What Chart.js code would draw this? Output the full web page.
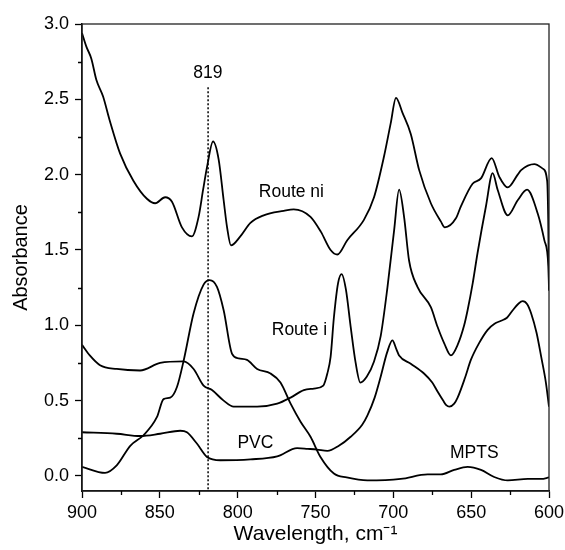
<!DOCTYPE html>
<html>
<head>
<meta charset="utf-8">
<title>Absorbance spectra</title>
<script src="https://cdn.jsdelivr.net/npm/chart.js@4.4.1/dist/chart.umd.min.js"></script>
<style>
    html, body { margin: 0; padding: 0; background: #fff; }
    #wrap { width: 565px; height: 550px; }
</style>
</head>
<body>
<div id="wrap"><canvas id="chart" width="565" height="550"></canvas></div>
<script>
// Route ni
const routeNiX = [900, 897.2, 894, 890.8, 886.5, 882.2, 875.5, 867, 858.3, 853, 846.6, 842.2, 835.8, 829.4, 825.1, 822.2, 819.7, 815.8, 812.2, 809, 806.8, 804.3, 798.3, 791.8, 783.3, 770.4, 764, 753.2, 746.5, 740.3, 736, 729.6, 718.9, 712.4, 706, 701.7, 698.3, 694.1, 688.8, 683.4, 675.9, 669.5, 666.9, 659.8, 656.6, 649.1, 643.7, 636.8, 631.9, 626.5, 620.1, 617.9, 609.4, 604, 601.2, 600.5, 600];
const routeNiY = [2.94, 2.85, 2.77, 2.63, 2.52, 2.36, 2.14, 1.96, 1.84, 1.81, 1.85, 1.82, 1.65, 1.59, 1.72, 1.90, 2.05, 2.22, 2.10, 1.83, 1.65, 1.53, 1.59, 1.68, 1.73, 1.76, 1.77, 1.72, 1.62, 1.50, 1.47, 1.565, 1.70, 1.85, 2.12, 2.34, 2.51, 2.41, 2.27, 2.03, 1.81, 1.69, 1.65, 1.71, 1.79, 1.94, 1.975, 2.11, 1.985, 1.915, 2.0, 2.03, 2.07, 2.04, 1.96, 1.70, 1.23];

// Route i
const routeIX = [900, 895, 888.4, 877.7, 862.7, 849.8, 834.8, 828.3, 821.9, 816.5, 809, 802.6, 787.5, 774.6, 766, 757.5, 751, 745, 742.4, 740.3, 738.2, 735.5, 733.2, 730.5, 727.4, 724.2, 721.2, 717, 712.4, 708.1, 703.8, 699.5, 696.3, 693.1, 689.9, 684.5, 675.9, 671.6, 667.3, 663, 658.7, 654.5, 652.3, 649, 645.9, 640.5, 636.2, 633, 626.5, 620.1, 614.1, 607.2, 603, 600.4, 600];
const routeIY = [0.87, 0.80, 0.735, 0.71, 0.70, 0.75, 0.76, 0.71, 0.60, 0.57, 0.50, 0.46, 0.46, 0.48, 0.52, 0.57, 0.58, 0.60, 0.68, 0.79, 1.05, 1.28, 1.34, 1.24, 0.99, 0.75, 0.62, 0.66, 0.76, 0.93, 1.25, 1.63, 1.90, 1.72, 1.43, 1.255, 1.12, 0.99, 0.88, 0.80, 0.87, 1.00, 1.10, 1.28, 1.48, 1.79, 2.01, 1.90, 1.73, 1.83, 1.90, 1.74, 1.565, 1.39, 1.24];

// PVC
const pvcX = [900, 877.7, 862.7, 849.8, 836.9, 832.6, 826.2, 819.7, 811.1, 791.8, 774.6, 761.8, 755, 749, 742.4, 735, 727.4, 720, 716.7, 712, 708.1, 704, 700.6, 698, 696.3, 688.8, 680.3, 675, 671.6, 668, 666, 664, 660.9, 658.7, 654, 650.2, 645, 639.4, 635, 630.8, 627, 623.3, 619.5, 616.9, 614, 611.5, 608, 605, 602, 600];
const pvcY = [0.29, 0.28, 0.265, 0.28, 0.30, 0.29, 0.215, 0.126, 0.104, 0.11, 0.13, 0.185, 0.18, 0.175, 0.166, 0.20, 0.26, 0.34, 0.40, 0.52, 0.66, 0.82, 0.90, 0.84, 0.80, 0.745, 0.68, 0.62, 0.56, 0.50, 0.47, 0.46, 0.48, 0.52, 0.65, 0.77, 0.88, 0.97, 1.01, 1.03, 1.05, 1.10, 1.145, 1.16, 1.14, 1.08, 0.95, 0.79, 0.62, 0.46];

// MPTS
const mptsX = [900, 885.2, 877.7, 869, 860.5, 851.9, 847.6, 843.3, 839, 834.6, 828.3, 821.9, 818, 813.3, 809, 803.6, 799.4, 794, 787.5, 778.9, 772.5, 766, 759.6, 753.2, 746.8, 738.2, 730, 716.7, 695.2, 678, 669.5, 660.9, 652.3, 643.7, 635.2, 626.5, 613.6, 605, 600];
const mptsY = [0.06, 0.02, 0.07, 0.20, 0.27, 0.39, 0.51, 0.52, 0.59, 0.77, 1.08, 1.27, 1.30, 1.255, 1.10, 0.81, 0.78, 0.77, 0.71, 0.68, 0.62, 0.48, 0.36, 0.26, 0.126, 0.016, -0.01, -0.03, -0.02, 0.01, 0.01, 0.04, 0.06, 0.04, -0.007, -0.03, -0.02, -0.02, -0.01];

// dotted marker at 819 cm-1
const markerX = [819, 819];
const markerY = [2.58, -0.1];

const xTicks = [900, 850, 800, 750, 700, 650, 600];
const yTicks = [0.0, 0.5, 1.0, 1.5, 2.0, 2.5, 3.0];
const xMinor = [875, 825, 775, 725, 675, 625];
const yMinor = [0.25, 0.75, 1.25, 1.75, 2.25, 2.75];

const labels = [
    { text: '819', x: 819.2, y: 2.673 },
    { text: 'Route ni', x: 765.5, y: 1.886 },
    { text: 'Route i', x: 760.3, y: 0.97 },
    { text: 'PVC', x: 788.6, y: 0.215 },
    { text: 'MPTS', x: 648, y: 0.149 }
];

const FONT = "'Liberation Sans', Arial, sans-serif";

function points(xs, ys) {
    return xs.map((x, i) => ({ x: x, y: ys[i] }));
}

function curve(label, xs, ys) {
    return {
        label: label,
        data: points(xs, ys),
        borderColor: '#000',
        borderWidth: 1.8,
        pointRadius: 0,
        cubicInterpolationMode: 'monotone',
        fill: false
    };
}

// frame, minor ticks and in-plot labels
const decorations = {
    id: 'decorations',
    afterDatasetsDraw(chart) {
        const { ctx, chartArea: a, scales: { x, y } } = chart;
        ctx.save();
        ctx.strokeStyle = '#222';
        ctx.lineWidth = 1.3;
        ctx.strokeRect(a.left, a.top, a.right - a.left, a.bottom - a.top);

        ctx.strokeStyle = '#000';
        ctx.lineWidth = 1.3;
        ctx.beginPath();
        xMinor.forEach(v => {
            const px = Math.round(x.getPixelForValue(v)) + 0.5;
            ctx.moveTo(px, a.bottom);
            ctx.lineTo(px, a.bottom + 4);
        });
        yMinor.forEach(v => {
            const py = Math.round(y.getPixelForValue(v)) + 0.5;
            ctx.moveTo(a.left, py);
            ctx.lineTo(a.left - 4, py);
        });
        ctx.stroke();

        ctx.fillStyle = '#000';
        ctx.font = '17.5px ' + FONT;
        ctx.textAlign = 'center';
        ctx.textBaseline = 'middle';
        labels.forEach(l => {
            ctx.fillText(l.text, x.getPixelForValue(l.x), y.getPixelForValue(l.y));
        });
        ctx.restore();
    }
};

new Chart(document.getElementById('chart'), {
    type: 'line',
    data: {
        datasets: [
            curve('Route ni', routeNiX, routeNiY),
            curve('Route i', routeIX, routeIY),
            curve('PVC', pvcX, pvcY),
            curve('MPTS', mptsX, mptsY),
            {
                label: '819',
                data: points(markerX, markerY),
                borderColor: '#000',
                borderWidth: 1.5,
                borderDash: [2, 2],
                pointRadius: 0,
                tension: 0
            }
        ]
    },
    options: {
        responsive: false,
        animation: false,
        layout: { padding: { top: 24, right: 16, left: 0, bottom: 0 } },
        plugins: {
            legend: { display: false },
            tooltip: { enabled: false }
        },
        scales: {
            x: {
                type: 'linear',
                reverse: true,
                min: 600,
                max: 900,
                afterBuildTicks: scale => { scale.ticks = xTicks.map(v => ({ value: v })); },
                afterFit: scale => {
                    scale.height = 59;
                    scale.paddingLeft = 0;
                    scale.paddingRight = 0;
                },
                grid: { drawOnChartArea: false, drawTicks: true, tickLength: 7, tickColor: '#000', tickWidth: 1.3 },
                border: { color: '#000', width: 1.5 },
                ticks: {
                    color: '#000',
                    font: { family: FONT, size: 18 },
                    padding: 4,
                    maxRotation: 0,
                    callback: v => String(v)
                },
                title: {
                    display: true,
                    text: 'Wavelength, cm\u207B\u00B9',
                    color: '#000',
                    font: { family: FONT, size: 21 },
                    padding: { top: 0, bottom: 3 }
                }
            },
            y: {
                min: -0.1,
                max: 3.0,
                afterBuildTicks: scale => { scale.ticks = yTicks.map(v => ({ value: v })); },
                afterFit: scale => {
                    scale.width = 82;
                    scale.paddingTop = 0;
                    scale.paddingBottom = 0;
                },
                grid: { drawOnChartArea: false, drawTicks: true, tickLength: 7, tickColor: '#000', tickWidth: 1.3 },
                border: { color: '#000', width: 1.5 },
                ticks: {
                    color: '#000',
                    font: { family: FONT, size: 18 },
                    padding: 6,
                    callback: v => Number(v).toFixed(1)
                },
                title: {
                    display: true,
                    text: 'Absorbance',
                    color: '#000',
                    font: { family: FONT, size: 20 },
                    padding: { top: 9, bottom: 0 }
                }
            }
        }
    },
    plugins: [decorations]
});
</script>
</body>
</html>
